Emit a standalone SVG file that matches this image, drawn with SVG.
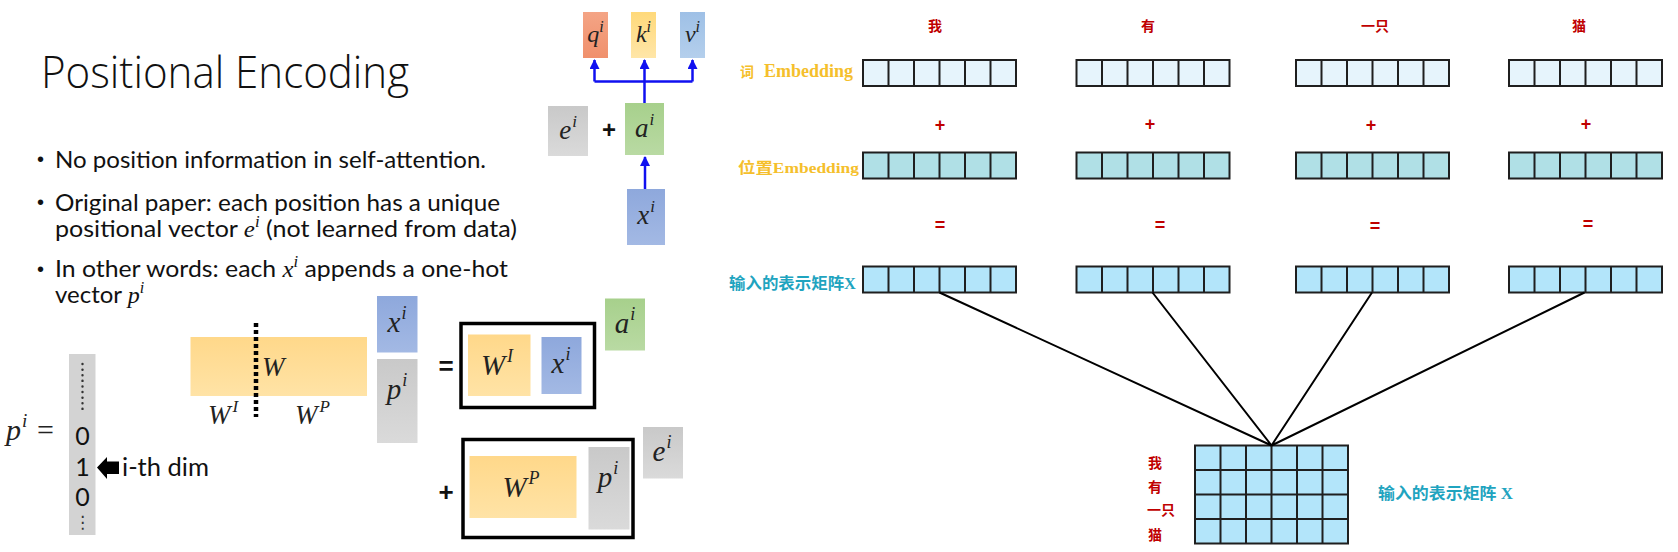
<svg xmlns="http://www.w3.org/2000/svg" xmlns:xlink="http://www.w3.org/1999/xlink" width="1678" height="552" viewBox="0 0 1678 552">
<style>
.t{font-family:Lato,"Open Sans","Liberation Sans",sans-serif;fill:#111}
.title{font-family:"Open Sans","Liberation Sans",sans-serif;font-size:44px;font-weight:300}
.b{font-size:24px}
.dot{font-family:"Liberation Sans",sans-serif;font-size:20px;fill:#111}
.m{font-family:"Liberation Serif","DejaVu Serif",serif;font-style:italic;fill:#222}
.mi{font-family:"Liberation Serif","DejaVu Serif",serif;font-style:italic}
.cj{font-family:"Liberation Serif","Noto Sans CJK SC",serif;font-weight:bold}
.red{fill:#C00000}
.yel{fill:#F5BF2C}
.teal{fill:#1FA4BF}
.op{font-family:"Liberation Sans",sans-serif;font-weight:bold;fill:#111}
.rop{font-family:"Liberation Sans",sans-serif;font-weight:bold;fill:#C00000;font-size:18px}
.frame{fill:none;stroke:#000;stroke-width:3.5}
.cell{stroke:#1f1f1f;stroke-width:2}
.blue{stroke:#1010F0;stroke-width:2.5;fill:none}
.conn{stroke:#000;stroke-width:2;fill:none}
</style>
<defs>
<linearGradient id="gOr" x1="0" y1="0" x2="0" y2="1"><stop offset="0" stop-color="#FFD88A"/><stop offset="1" stop-color="#FFE3A6"/></linearGradient>
<linearGradient id="gBl" x1="0" y1="0" x2="0" y2="1"><stop offset="0" stop-color="#8EA8DC"/><stop offset="1" stop-color="#A3B9E4"/></linearGradient>
<linearGradient id="gGr" x1="0" y1="0" x2="0" y2="1"><stop offset="0" stop-color="#C9C9C9"/><stop offset="1" stop-color="#DADADA"/></linearGradient>
<linearGradient id="gGn" x1="0" y1="0" x2="0" y2="1"><stop offset="0" stop-color="#A7D08C"/><stop offset="1" stop-color="#B9DAA3"/></linearGradient>
<linearGradient id="gQ" x1="0" y1="0" x2="0" y2="1"><stop offset="0" stop-color="#F4A485"/><stop offset="1" stop-color="#F0906C"/></linearGradient>
<linearGradient id="gK" x1="0" y1="0" x2="0" y2="1"><stop offset="0" stop-color="#FFD97A"/><stop offset="1" stop-color="#FFE6A8"/></linearGradient>
<linearGradient id="gV" x1="0" y1="0" x2="0" y2="1"><stop offset="0" stop-color="#9EC0E6"/><stop offset="1" stop-color="#B4CFEC"/></linearGradient>
<marker id="ah" viewBox="0 0 10 10" refX="9" refY="5" markerWidth="4" markerHeight="4" orient="auto" markerUnits="strokeWidth"><path d="M0,0 L10,5 L0,10 z" fill="#1010F0"/></marker>
<g id="row" class="cell"><rect x="0" y="0" width="153" height="26"/><path d="M25.5,0v26M51,0v26M76.5,0v26M102,0v26M127.5,0v26"/></g>
</defs>
<rect width="1678" height="552" fill="#fff"/>

<!-- Left: text -->
<g id="title"><text class="title" fill="#111" x="41" y="88" textLength="368" lengthAdjust="spacingAndGlyphs">Positional Encoding</text></g>
<g id="bullets">
<text class="dot" x="37" y="166">•</text>
<text class="t b" x="55" y="167.5" textLength="431" lengthAdjust="spacingAndGlyphs">No position information in self-attention.</text>
<text class="dot" x="37" y="209">•</text>
<text class="t b" x="55" y="210.5" textLength="445" lengthAdjust="spacingAndGlyphs">Original paper: each position has a unique</text>
<text class="t b" x="55" y="236.5" textLength="462" lengthAdjust="spacingAndGlyphs">positional vector <tspan class="mi">e</tspan><tspan class="mi" font-size="16" dy="-10">i</tspan><tspan dy="10"> (not learned from data)</tspan></text>
<text class="dot" x="37" y="276">•</text>
<text class="t b" x="55" y="277.3" textLength="453" lengthAdjust="spacingAndGlyphs">In other words: each <tspan class="mi">x</tspan><tspan class="mi" font-size="16" dy="-10">i</tspan><tspan dy="10"> appends a one-hot</tspan></text>
<text class="t b" x="55" y="303.3">vector <tspan class="mi">p</tspan><tspan class="mi" font-size="16" dy="-10">i</tspan></text>
</g>

<!-- Top mini diagram -->
<g id="q"><rect x="583" y="12" width="25" height="46" fill="url(#gQ)"/><text class="m" x="595.5" y="42" font-size="24" text-anchor="middle">q<tspan font-size="16" dy="-10">i</tspan></text></g>
<g id="k"><rect x="631" y="12" width="25" height="46" fill="url(#gK)"/><text class="m" x="643.5" y="42" font-size="24" text-anchor="middle">k<tspan font-size="16" dy="-10">i</tspan></text></g>
<g id="v"><rect x="680" y="12" width="25" height="46" fill="url(#gV)"/><text class="m" x="692.5" y="42" font-size="24" text-anchor="middle">v<tspan font-size="16" dy="-10">i</tspan></text></g>
<g id="e_top"><rect x="548" y="106" width="40" height="50" fill="url(#gGr)"/><text class="m" x="568" y="139" font-size="27" text-anchor="middle">e<tspan font-size="17" dy="-12" dx="1">i</tspan></text></g>
<g id="plus_top"><text class="op" x="609" y="138" font-size="24" text-anchor="middle">+</text></g>
<g id="a_top"><rect x="625" y="103" width="39" height="52" fill="url(#gGn)"/><text class="m" x="644.5" y="137" font-size="27" text-anchor="middle">a<tspan font-size="17" dy="-12" dx="1">i</tspan></text></g>
<g id="x_top"><rect x="627" y="189" width="38" height="56" fill="url(#gBl)"/><text class="m" x="646" y="224" font-size="27" text-anchor="middle">x<tspan font-size="17" dy="-12" dx="1">i</tspan></text></g>

<!-- Bottom-left: p^i vector -->
<g id="pvec">
<text class="m" x="6" y="440" font-size="30">p<tspan font-size="19" dy="-13" dx="1">i</tspan></text>
<text x="37" y="440" font-family="Liberation Serif,serif" font-size="30" fill="#222">=</text>
<rect x="69" y="354" width="26.5" height="181" fill="#D3D3D3"/>
<line x1="82.5" y1="364" x2="82.5" y2="414" stroke="#333" stroke-width="2.4" stroke-dasharray="0.1 5.5" stroke-linecap="round"/>
<text class="t" x="82.5" y="445" font-size="25" text-anchor="middle">0</text>
<text class="t" x="82.5" y="476" font-size="25" text-anchor="middle">1</text>
<text class="t" x="82.5" y="506" font-size="25" text-anchor="middle">0</text>
<text x="82.5" y="528" font-family="DejaVu Sans,sans-serif" font-size="17" fill="#333" text-anchor="middle">⋮</text>
<polygon points="97,467.5 107,457 107,461.5 119,461.5 119,474 107,474 107,479" fill="#000"/>
<text class="t" x="122" y="476" font-size="25" textLength="87" lengthAdjust="spacingAndGlyphs">i-th dim</text>
</g>

<!-- W matrix -->
<g id="W">
<rect x="190.5" y="337" width="176.5" height="59" fill="url(#gOr)"/>
<line x1="256" y1="323" x2="256" y2="417" stroke="#000" stroke-width="4.5" stroke-dasharray="4 3"/>
<text class="m" x="262" y="376" font-size="27">W</text>
<text class="m" x="208" y="424" font-size="27">W<tspan font-size="17" dy="-12" dx="2">I</tspan></text>
<text class="m" x="295" y="424" font-size="27">W<tspan font-size="17" dy="-12" dx="2">P</tspan></text>
</g>
<g id="xp_col">
<rect x="377" y="296" width="40.5" height="56.5" fill="url(#gBl)"/>
<text class="m" x="397" y="332" font-size="29" text-anchor="middle">x<tspan font-size="18" dy="-13" dx="1">i</tspan></text>
<rect x="377" y="359" width="40.5" height="84" fill="url(#gGr)"/>
<text class="m" x="397" y="399" font-size="29" text-anchor="middle">p<tspan font-size="18" dy="-13" dx="1">i</tspan></text>
</g>
<g id="eq1"><text class="op" x="446" y="375" font-size="26" text-anchor="middle">=</text></g>
<g id="box1">
<rect class="frame" x="461" y="323.5" width="133.5" height="84"/>
<rect x="468" y="334.5" width="62.5" height="61.5" fill="url(#gOr)"/>
<text class="m" x="497" y="375" font-size="29" text-anchor="middle">W<tspan font-size="18" dy="-13" dx="2">I</tspan></text>
<rect x="541.5" y="337" width="40" height="57" fill="url(#gBl)"/>
<text class="m" x="561" y="373" font-size="29" text-anchor="middle">x<tspan font-size="18" dy="-13" dx="1">i</tspan></text>
</g>
<g id="a_bot"><rect x="605" y="298.5" width="40" height="52" fill="url(#gGn)"/><text class="m" x="625" y="333" font-size="29" text-anchor="middle">a<tspan font-size="18" dy="-13" dx="1">i</tspan></text></g>
<g id="plus2"><text class="op" x="446" y="501" font-size="26" text-anchor="middle">+</text></g>
<g id="box2">
<rect class="frame" x="463" y="439.5" width="170" height="98"/>
<rect x="469.5" y="456" width="107" height="62" fill="url(#gOr)"/>
<text class="m" x="521" y="497" font-size="29" text-anchor="middle">W<tspan font-size="18" dy="-13" dx="2">P</tspan></text>
<rect x="588.5" y="447" width="41" height="82.5" fill="url(#gGr)"/>
<text class="m" x="608" y="487" font-size="29" text-anchor="middle">p<tspan font-size="18" dy="-13" dx="1">i</tspan></text>
</g>
<g id="e_bot"><rect x="643" y="427" width="40" height="51.5" fill="url(#gGr)"/><text class="m" x="662" y="461" font-size="29" text-anchor="middle">e<tspan font-size="18" dy="-13" dx="1">i</tspan></text></g>

<!-- Right: embeddings -->
<g id="labels_left">
<text class="cj yel" x="740" y="76.5" font-size="14">词</text>
<text class="cj yel" x="764" y="76.5" font-size="19" textLength="89" lengthAdjust="spacingAndGlyphs">Embedding</text>
<text class="cj yel" x="738" y="172.5" font-size="15" textLength="121" lengthAdjust="spacingAndGlyphs">位置Embedding</text>
<text class="cj teal" x="729" y="288.5" font-size="16" textLength="127" lengthAdjust="spacingAndGlyphs">输入的表示矩阵X</text>
</g>
<g id="word1">
<text class="cj red" x="935" y="31" font-size="14" text-anchor="middle">我</text>
<use href="#row" x="863" y="60" fill="#E6F4FC"/>
<text class="rop" x="940" y="131" text-anchor="middle">+</text>
<use href="#row" x="863" y="152.5" fill="#B0E0E6"/>
<text class="rop" x="940" y="231" text-anchor="middle">=</text>
<use href="#row" x="863" y="266.5" fill="#B3E5FA"/>
</g>
<g id="word2">
<text class="cj red" x="1148" y="31" font-size="14" text-anchor="middle">有</text>
<use href="#row" x="1076.5" y="60" fill="#E6F4FC"/>
<text class="rop" x="1150" y="130" text-anchor="middle">+</text>
<use href="#row" x="1076.5" y="152.5" fill="#B0E0E6"/>
<text class="rop" x="1160" y="231" text-anchor="middle">=</text>
<use href="#row" x="1076.5" y="266.5" fill="#B3E5FA"/>
</g>
<g id="word3">
<text class="cj red" x="1375" y="31" font-size="14" text-anchor="middle">一只</text>
<use href="#row" x="1296" y="60" fill="#E6F4FC"/>
<text class="rop" x="1371" y="131" text-anchor="middle">+</text>
<use href="#row" x="1296" y="152.5" fill="#B0E0E6"/>
<text class="rop" x="1375" y="232" text-anchor="middle">=</text>
<use href="#row" x="1296" y="266.5" fill="#B3E5FA"/>
</g>
<g id="word4">
<text class="cj red" x="1579" y="31" font-size="14" text-anchor="middle">猫</text>
<use href="#row" x="1509" y="60" fill="#E6F4FC"/>
<text class="rop" x="1586" y="130" text-anchor="middle">+</text>
<use href="#row" x="1509" y="152.5" fill="#B0E0E6"/>
<text class="rop" x="1588" y="230" text-anchor="middle">=</text>
<use href="#row" x="1509" y="266.5" fill="#B3E5FA"/>
</g>

<g id="matrixX">
<rect class="cell" x="1195" y="445.5" width="153" height="98" fill="#B3E5FA"/>
<path class="cell" d="M1220.5,445.5v98M1246,445.5v98M1271.5,445.5v98M1297,445.5v98M1322.5,445.5v98M1195,470h153M1195,494.5h153M1195,519h153"/>
<text class="cj red" x="1155" y="467.5" font-size="14" text-anchor="middle">我</text>
<text class="cj red" x="1155" y="491.5" font-size="14" text-anchor="middle">有</text>
<text class="cj red" x="1161" y="515" font-size="14" text-anchor="middle">一只</text>
<text class="cj red" x="1155" y="540" font-size="14" text-anchor="middle">猫</text>
<text class="cj teal" x="1378" y="498.5" font-size="16" textLength="135" lengthAdjust="spacingAndGlyphs">输入的表示矩阵 X</text>
</g>

<g id="connectors">
<path class="blue" d="M594.5,81.5H692.5"/>
<path class="blue" d="M644.5,103V81.5"/>
<path class="blue" d="M594.5,81.5V60" marker-end="url(#ah)"/>
<path class="blue" d="M644.5,81.5V60" marker-end="url(#ah)"/>
<path class="blue" d="M692.5,81.5V60" marker-end="url(#ah)"/>
<path class="blue" d="M645,189V157" marker-end="url(#ah)"/>
<path class="conn" d="M939.5,292.5L1271.5,445.5M1152.5,292.5L1271.5,445.5M1372,292.5L1271.5,445.5M1584.5,292.5L1271.5,445.5"/>
</g>
</svg>
